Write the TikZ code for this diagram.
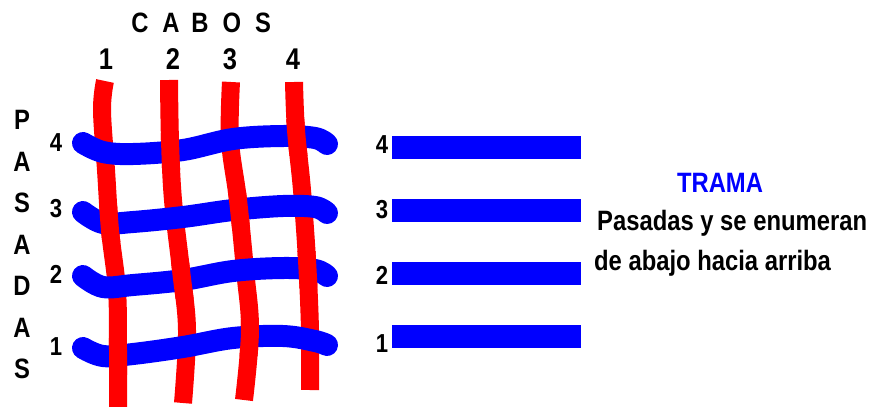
\documentclass[tikz,border=0pt]{standalone}
\usepackage{fontspec}
\newfontfamily\rotulo[FakeStretch=0.85]{Liberation Sans}

% hilos verticales (cabos)
\newcommand\cabouno{\draw[urdimbre] plot[smooth,tension=0.6] coordinates {(105,81) (102,110) (106,170) (110,230) (117,290) (118,350) (118,407)};}
\newcommand\cabodos{\draw[urdimbre] plot[smooth,tension=0.6] coordinates {(169,80) (170,140) (173,200) (181,270) (187,330) (183,403)};}
\newcommand\cabotres{\draw[urdimbre] plot[smooth,tension=0.6] coordinates {(231,82) (230,140) (238,200) (245,270) (250,330) (244,400)};}
\newcommand\cabocuatro{\draw[urdimbre] plot[smooth,tension=0.6] coordinates {(294,82) (296,130) (302,190) (307,260) (310,330) (310,390)};}

\begin{document}
\begin{tikzpicture}[x=1pt,y=-1pt,
    urdimbre/.style={draw=red,line width=18pt},
    trama/.style={draw=blue,line width=22pt,line cap=round},
    letra/.style={font=\rotulo\bfseries\fontsize{28}{30}\selectfont,inner sep=0pt},
    numcabo/.style={font=\rotulo\bfseries\fontsize{30}{32}\selectfont,inner sep=0pt},
    numpasada/.style={font=\rotulo\bfseries\fontsize{26}{28}\selectfont,inner sep=0pt}]
  \useasboundingbox (0,0) rectangle (873,407);

  % titulos
  \foreach \l/\x in {C/140,A/171,B/200,O/232,S/263}
    \node[letra] (cabos-\l) at (\x,23) {\l};
  \foreach \n/\x in {1/106,2/173,3/230,4/293}
    \node[numcabo] (cabo-\n) at (\x,59) {\n};
  \foreach \l [count=\i from 0] in {P,A,S,A,D,A,S}
    \node[letra] (pasadas-\i) at (22,{120+41.5*\i}) {\l};
  \foreach \n/\y in {4/143,3/209,2/274,1/347}
    \node[numpasada] (pasada-\n) at (56,\y) {\n};

  % tejido
  \cabouno \cabodos \cabotres \cabocuatro
  \draw[trama] plot[smooth,tension=0.6] coordinates {(83,143) (103,152) (133,154) (183,150) (233,139) (283,136) (315,138) (327,144)};
  \draw[trama] plot[smooth,tension=0.6] coordinates {(83,212) (103,223) (133,222) (183,217) (233,210) (283,206) (315,207) (327,213)};
  \draw[trama] plot[smooth,tension=0.6] coordinates {(83,276) (103,287) (133,285) (183,280) (233,271) (283,268) (315,270) (327,276)};
  \draw[trama] plot[smooth,tension=0.6] coordinates {(83,348) (103,356) (133,354) (183,347) (233,338) (283,336) (315,341) (327,345)};

  % cabos que pasan por encima
  \foreach \c/\xc/\yc in {dos/171/151,cuatro/298/137,uno/106/223,tres/238/209,
                          dos/181/280,cuatro/307/269,uno/118/356,tres/250/337} {
    \begin{scope}
      \clip (\xc-22,\yc-18) rectangle (\xc+22,\yc+18);
      \csname cabo\c\endcsname
    \end{scope}
  }

  % barras de la derecha
  \foreach \n/\y/\yn in {4/147.5/145,3/210.5/210,2/273/275,1/336/344} {
    \fill[blue] (392,\y-11.5) rectangle (581,\y+11.5);
    \node[numpasada] (barra-\n) at (382,\yn) {\n};
  }

  \node[letra,text=blue,anchor=base] (trama) at (720,192) {TRAMA};
  \node[letra,anchor=base west] (pasadas) at (597,230) {Pasadas y se enumeran};
  \node[letra,anchor=base west] (abajo) at (594,270) {de abajo hacia arriba};
\end{tikzpicture}
\end{document}
